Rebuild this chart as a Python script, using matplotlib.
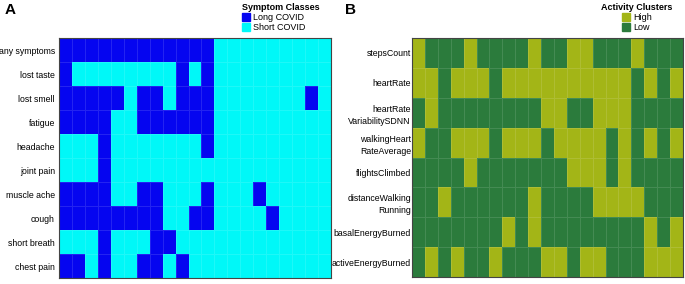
import numpy as np
import matplotlib
matplotlib.use("Agg")
import matplotlib.pyplot as plt
from matplotlib.colors import ListedColormap
from matplotlib.patches import Patch

plt.rcParams["font.family"] = ["Liberation Sans", "DejaVu Sans"]

# Panel A: 1 = Long COVID, 0 = Short COVID
symptoms = ["any symptoms", "lost taste", "lost smell", "fatigue", "headache",
            "joint pain", "muscle ache", "cough", "short breath", "chest pain"]
symptom_rows = [
    "111111111111000000000",
    "100000000101000000000",
    "111110110111000000010",
    "111100111111000000000",
    "000100000001000000000",
    "000100000000000000000",
    "111100110001000100000",
    "111111110011000010000",
    "000100011000000000000",
    "110100110100000000000",
]

# Panel B: 1 = High, 0 = Low
activities = ["stepsCount", "heartRate", "heartRate\nVariabilitySDNN",
              "walkingHeart\nRateAverage", "flightsClimbed",
              "distanceWalking\nRunning", "basalEnergyBurned",
              "activeEnergyBurned"]
activity_rows = [
    "100010000100110001000",
    "110111011111111110101",
    "010000000011001110000",
    "100111011101111010101",
    "000010000000111010000",
    "001000000100001111000",
    "000000010100000000101",
    "010100100011011000111",
]

symptom_classes = ["Long COVID", "Short COVID"]
activity_clusters = ["High", "Low"]

blue, cyan = "#0505F0", "#00F8F8"
lime, green = "#A3B517", "#2B7B3C"


def to_array(rows):
    return np.array([[int(c) for c in r] for r in rows])


fig = plt.figure(figsize=(6.85, 2.84), dpi=100)
ax_a = fig.add_axes([59 / 685, 6 / 284, 272 / 685, 240 / 284])
ax_b = fig.add_axes([412 / 685, 7 / 284, 271 / 685, 239 / 284])

panels = [
    (ax_a, to_array(symptom_rows), symptoms, ListedColormap([cyan, blue]), 3),
    (ax_b, to_array(activity_rows), activities, ListedColormap([green, lime]), 0.8),
]
for ax, data, labels, cmap, pad in panels:
    ax.pcolormesh(data, cmap=cmap, vmin=0, vmax=1,
                  edgecolors=(1, 1, 1, 0.12), linewidth=0.6)
    ax.set_ylim(len(labels), 0)
    ax.set_xlim(0, data.shape[1])
    ax.set_xticks([])
    ax.set_yticks(np.arange(len(labels)) + 0.5)
    ax.set_yticklabels(labels, fontsize=6.3, linespacing=1.45)
    ax.tick_params(axis="y", length=0, pad=pad)
    for s in ax.spines.values():
        s.set_color("#444444")
        s.set_linewidth(0.8)

fig.text(5 / 685, 1 - 10 / 284, "A", fontsize=11, fontweight="bold", va="center")
fig.text(345 / 685, 1 - 10 / 284, "B", fontsize=11, fontweight="bold", va="center")

leg_a = fig.legend(handles=[Patch(color=blue), Patch(color=cyan)],
                   labels=symptom_classes, title="Symptom Classes",
                   loc="upper left", bbox_to_anchor=(236 / 685, 1.01),
                   frameon=False, fontsize=6.5, title_fontsize=6.5,
                   handlelength=0.9, handleheight=1.0, handletextpad=0.3,
                   labelspacing=0.05, borderpad=0.2)
leg_a.get_title().set_fontweight("bold")
leg_a._legend_box.align = "left"

leg_b = fig.legend(handles=[Patch(color=lime), Patch(color=green)],
                   labels=activity_clusters, title="Activity Clusters",
                   loc="upper left", bbox_to_anchor=(595 / 685, 1.01),
                   frameon=False, fontsize=6.5, title_fontsize=6.5,
                   handlelength=0.9, handleheight=1.0, handletextpad=0.3,
                   labelspacing=0.05, borderpad=0.2)
leg_b.get_title().set_fontweight("bold")

fig.savefig("out.png", dpi=100)
